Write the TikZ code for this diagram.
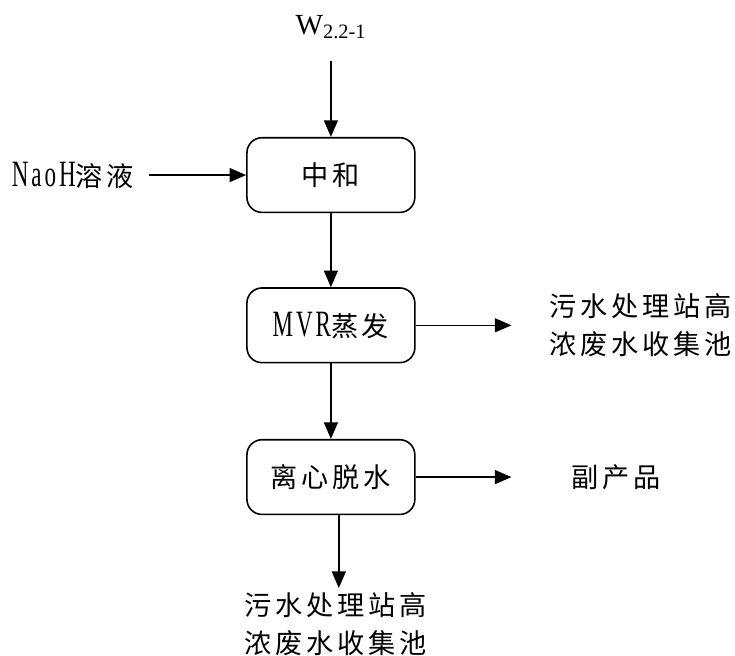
\documentclass[tikz,border=0pt]{standalone}
\usepackage{fontspec}
\setmainfont{Liberation Serif}
\newfontfamily\cjk[LetterSpace=14]{Noto Sans CJK SC}
\newfontfamily\latn[FakeStretch=0.62,LetterSpace=8]{Liberation Serif}
\newcommand{\latxt}[1]{{\latn\fontsize{28}{28}\selectfont #1}}
\usetikzlibrary{arrows.meta,positioning,calc}

\tikzset{
  procbox/.style={
    rectangle, draw, rounded corners=0.4cm, line width=1.2pt,
    minimum width=4.45cm, minimum height=1.98cm,
    font=\cjk\fontsize{20.5}{24}\selectfont, align=center,
    inner sep=2pt
  },
  labelnode/.style={
    font=\cjk\fontsize{20.5}{28.5}\selectfont, align=center, inner sep=0pt
  },
  flowarrow/.style={
    -{Triangle[length=12.5pt,width=10.5pt]}, line width=1.2pt
  },
}

\begin{document}
\begin{tikzpicture}[node distance=1.96cm]
  \useasboundingbox (-8.77,4.64) rectangle (10.71,-12.72);

  % process chain
  \node[procbox] (neutral) {中和};
  \node[procbox, below=of neutral] (mvr) {\latxt{MVR}蒸发};
  \node[procbox, below=2.0cm of mvr] (dewater) {离心脱水};

  % inputs
  \coordinate[above=2.0cm of neutral.north] (wtop);
  \node[above=0.6cm of wtop, font=\fontsize{22}{22}\selectfont, inner sep=0pt] (wname) {W\textsubscript{2.2-1}};
  \coordinate[left=2.57cm of neutral.west] (naohstart);
  \node[labelnode, left=0.4cm of naohstart] (naoh) {\latxt{NaoH}溶液};

  % outputs
  \coordinate[right=2.54cm of mvr.east] (mvrout);
  \node[labelnode, right=1.0cm of mvrout] (wastea) {污水处理站高\\浓废水收集池};
  \coordinate[right=2.54cm of dewater.east] (dwout);
  \node[labelnode, right=1.59cm of dwout] (byprod) {副产品};
  \coordinate (dwbot) at ([xshift=0.21cm]dewater.south);
  \coordinate[below=1.93cm of dwbot] (dwend);
  \node[labelnode, below=0.12cm of dwend, xshift=-0.08cm] (wasteb) {污水处理站高\\浓废水收集池};

  \draw[flowarrow] (wtop) -- (neutral);
  \draw[flowarrow] (naohstart) -- (neutral);
  \draw[flowarrow] (neutral) -- (mvr);
  \draw[flowarrow] (mvr) -- (mvrout);
  \draw[flowarrow] (mvr) -- (dewater);
  \draw[flowarrow] (dewater) -- (dwout);
  \draw[flowarrow] (dwbot) -- (dwend);
\end{tikzpicture}
\end{document}
